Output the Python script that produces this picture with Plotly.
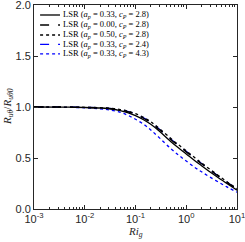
import plotly.graph_objects as go

ri = [0.001, 0.003, 0.01, 0.02, 0.03, 0.05, 0.07, 0.1, 0.15, 0.2, 0.3, 0.5, 0.7, 1, 1.5, 2, 3, 5, 7, 10]
r_solid = [1.0, 0.999, 0.995, 0.99, 0.983, 0.965, 0.945, 0.915, 0.87, 0.83, 0.76, 0.66, 0.60, 0.54, 0.47, 0.425, 0.36, 0.285, 0.235, 0.185]
r_dash_a0 = [1.0, 1.0, 0.996, 0.992, 0.986, 0.971, 0.954, 0.928, 0.885, 0.846, 0.776, 0.68, 0.62, 0.56, 0.49, 0.443, 0.377, 0.298, 0.246, 0.195]
r_dot_a05 = [1.0, 1.0, 0.997, 0.993, 0.988, 0.975, 0.96, 0.935, 0.893, 0.855, 0.785, 0.69, 0.63, 0.57, 0.50, 0.452, 0.385, 0.305, 0.252, 0.20]
r_blue_dash = [1.0, 1.0, 0.997, 0.992, 0.987, 0.973, 0.957, 0.931, 0.889, 0.85, 0.78, 0.685, 0.625, 0.565, 0.495, 0.447, 0.38, 0.30, 0.248, 0.197]
r_blue_dot = [1.0, 0.998, 0.992, 0.982, 0.972, 0.948, 0.92, 0.88, 0.825, 0.775, 0.695, 0.59, 0.53, 0.47, 0.405, 0.365, 0.31, 0.245, 0.205, 0.165]

labels = [
    "LSR (<i>a<sub>p</sub></i> = 0.33, <i>c<sub>P</sub></i> = 2.8)",
    "LSR (<i>a<sub>p</sub></i> = 0.00, <i>c<sub>P</sub></i> = 2.8)",
    "LSR (<i>a<sub>p</sub></i> = 0.50, <i>c<sub>P</sub></i> = 2.8)",
    "LSR (<i>a<sub>p</sub></i> = 0.33, <i>c<sub>P</sub></i> = 2.4)",
    "LSR (<i>a<sub>p</sub></i> = 0.33, <i>c<sub>P</sub></i> = 4.3)",
]
series = [r_solid, r_dash_a0, r_dot_a05, r_blue_dash, r_blue_dot]
colors = ["black", "black", "black", "#0000ff", "#0000ff"]
dashes = ["solid", "dash", "dot", "dash", "dot"]

xtickvals = [0.001, 0.01, 0.1, 1, 10]
xticktext = ["10<sup>-3</sup>", "10<sup>-2</sup>", "10<sup>-1</sup>", "10<sup>0</sup>", "10<sup>1</sup>"]
xminor = [m * 10 ** e for e in (-3, -2, -1, 0) for m in range(2, 10)]
ytickvals = [0, 0.5, 1.0, 1.5, 2.0]

fig = go.Figure()
for i in [4, 3, 1, 0, 2]:
    fig.add_trace(go.Scatter(x=ri, y=series[i], mode="lines", line_shape="spline",
                             line=dict(color=colors[i], width=1.3, dash=dashes[i]),
                             showlegend=False))

# manual legend
row_y = [0.951, 0.902, 0.853, 0.807, 0.760]
for i in range(5):
    fig.add_shape(type="line", xref="paper", yref="paper", x0=0.03, x1=0.128,
                  y0=row_y[i], y1=row_y[i],
                  line=dict(color=colors[i], width=1.3, dash=dashes[i]))
    fig.add_annotation(xref="paper", yref="paper", x=0.133, y=row_y[i], text=labels[i],
                       showarrow=False, xanchor="left", yanchor="middle",
                       font=dict(family="Liberation Serif", size=8.5, color="black"))

axis_col = "#262626"
fig.add_annotation(xref="paper", yref="paper", x=0.5, y=-0.113, text="<i>Ri<sub>g</sub></i>",
                   showarrow=False, xanchor="center", yanchor="middle",
                   font=dict(family="Liberation Serif", size=11, color=axis_col))
fig.add_annotation(xref="paper", yref="paper", x=-0.128, y=0.5,
                   text="<i>R<sub>uθ</sub></i>/<i>R<sub>uθ0</sub></i>", textangle=-90,
                   showarrow=False, xanchor="center", yanchor="middle",
                   font=dict(family="Liberation Serif", size=11, color=axis_col))

fig.update_layout(
    width=245, height=242,
    margin=dict(l=34, r=8, t=5, b=33, autoexpand=False),
    paper_bgcolor="white", plot_bgcolor="white",
    font=dict(family="Liberation Sans", size=11, color=axis_col),
    xaxis=dict(type="log", range=[-3, 1], tickvals=xtickvals, ticktext=xticktext,
               ticks="inside", ticklen=4, tickcolor=axis_col, showgrid=False, zeroline=False,
               showline=True, linecolor=axis_col, linewidth=0.8, mirror="allticks",
               automargin=False, ticklabeloverflow="allow",
               minor=dict(tickvals=xminor, ticks="inside", ticklen=2, tickcolor=axis_col)),
    yaxis=dict(range=[0, 2], tickvals=ytickvals, tickformat=".1f",
               ticks="inside", ticklen=4, tickcolor=axis_col, showgrid=False, zeroline=False,
               showline=True, linecolor=axis_col, linewidth=0.8, mirror="allticks",
               automargin=False, ticklabeloverflow="allow"),
)

fig.write_html("out.html", config={"displayModeBar": False},
               post_script="document.body.style.margin='0';document.body.style.overflow='hidden';")
